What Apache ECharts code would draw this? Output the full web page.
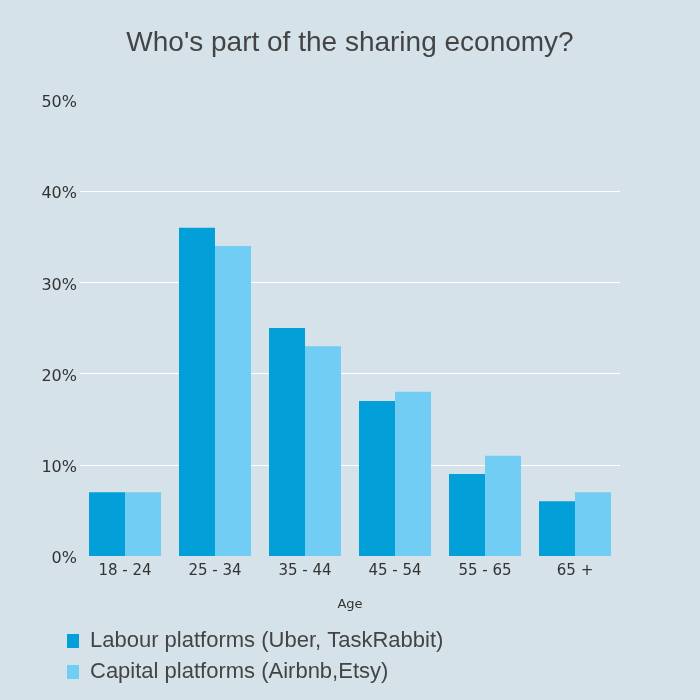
<!DOCTYPE html>
<html>
<head>
<meta charset="utf-8">
<script src="https://cdn.jsdelivr.net/npm/echarts@6/dist/echarts.min.js"></script>
<style>
html,body{margin:0;padding:0;background:#d5e2ea;}
#chart{width:700px;height:700px;}
</style>
</head>
<body>
<div id="chart"></div>
<script>
var ages=['18 - 24','25 - 34','35 - 44','45 - 54','55 - 65','65 +'];
var labour=[7,36,25,17,9,6];
var capital=[7,34,23,18,11,7];
var seriesNames=['Labour platforms (Uber, TaskRabbit)','Capital platforms (Airbnb,Etsy)'];

var chart=echarts.init(document.getElementById('chart'));
chart.setOption({
    backgroundColor:'#d5e2ea',
    title:{
        text:"Who's part of the sharing economy?",
        left:'center',top:24,
        textStyle:{fontFamily:'Liberation Sans, Arial',fontSize:28,fontWeight:'normal',color:'#444'}
    },
    legend:{
        orient:'vertical',left:62,top:625,itemGap:9,
        itemWidth:12,itemHeight:14,icon:'rect',
        textStyle:{fontFamily:'Liberation Sans, Arial',fontSize:22,color:'#444',padding:[0,0,0,6]},
        data:seriesNames
    },
    grid:{left:80,right:80,top:100,bottom:144},
    xAxis:{
        type:'category',data:ages,
        name:'Age',nameLocation:'middle',nameGap:42,
        nameTextStyle:{fontFamily:'DejaVu Sans',fontSize:13,color:'#333'},
        axisLine:{show:false},axisTick:{show:false},
        axisLabel:{fontFamily:'DejaVu Sans',fontSize:15,color:'#333',margin:8}
    },
    yAxis:{
        type:'value',min:0,max:50,interval:10,
        axisLabel:{formatter:'{value}%',fontFamily:'DejaVu Sans',fontSize:16,color:'#333',margin:3,verticalAlign:'top',padding:[-5,0,0,0]},
        splitLine:{show:true,showMinLine:false,showMaxLine:false,lineStyle:{color:'#ffffff',width:1}},
        axisLine:{show:false},axisTick:{show:false}
    },
    series:[
        {name:seriesNames[0],type:'bar',data:labour,barGap:'0%',barCategoryGap:'20%',itemStyle:{color:'#039fd8'}},
        {name:seriesNames[1],type:'bar',data:capital,itemStyle:{color:'#72cdf4'}}
    ]
});
</script>
</body>
</html>
